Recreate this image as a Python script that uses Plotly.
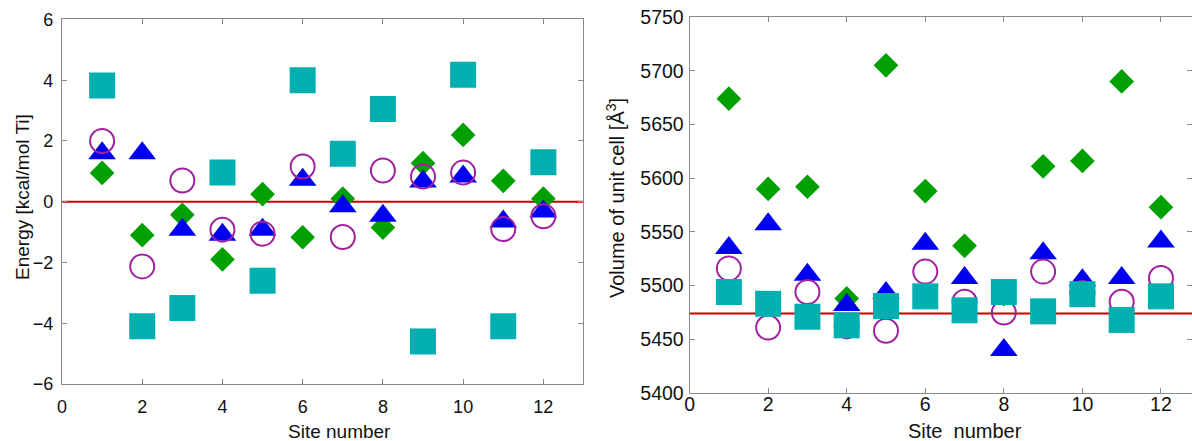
import plotly.graph_objects as go

sites = list(range(1, 13))

# Left panel: energy [kcal/mol Ti]
energy_square = [3.83, -4.1, -3.5, 0.96, -2.6, 4.0, 1.58, 3.05, -4.6, 4.18, -4.1, 1.3]
energy_circle = [2.0, -2.13, 0.7, -0.92, -1.05, 1.16, -1.16, 1.03, 0.83, 0.96, -0.9, -0.48]
energy_triangle = [1.6, 1.6, -0.92, -1.09, -0.92, 0.72, -0.15, -0.46, 0.67, 0.83, -0.65, -0.32]
energy_diamond = [0.95, -1.1, -0.43, -1.9, 0.25, -1.17, 0.1, -0.85, 1.27, 2.2, 0.69, 0.1]
energy_ref = 0.0

# Right panel: volume of unit cell [A^3]
volume_diamond = [5674, 5590, 5592, 5488, 5705, 5588, 5537, 5492, 5611, 5616, 5690, 5573]
volume_triangle = [5535, 5557, 5510, 5482, 5493, 5539, 5507, 5440, 5530, 5505, 5507, 5541]
volume_circle = [5516, 5461, 5494, 5462, 5458, 5513, 5485, 5475, 5513, 5493, 5485, 5507]
volume_square = [5494, 5483, 5471, 5463, 5481, 5490, 5477, 5494, 5476, 5492, 5468, 5490]
volume_ref = 5474

x_ticks = [0, 2, 4, 6, 8, 10, 12]

RED = "#C80000"
GREEN = "#00A000"
BLUE = "#0000F0"
PURPLE = "#A020A0"
TEAL = "#00AFAF"
FONT = "Liberation Sans, Arial, sans-serif"
TXT = "#111111"

fig = go.Figure()

def add_panel(xa, ya, x_max, ref, diamond, triangle, circle, square):
    fig.add_trace(go.Scatter(x=[0, x_max], y=[ref, ref], mode="lines",
                             line=dict(color=RED, width=2), xaxis=xa, yaxis=ya,
                             showlegend=False, hoverinfo="skip"))
    fig.add_trace(go.Scatter(x=sites, y=diamond, mode="markers", xaxis=xa, yaxis=ya,
                             marker=dict(symbol="diamond", size=19, color=GREEN, line=dict(width=0)),
                             showlegend=False))
    fig.add_trace(go.Scatter(x=sites, y=triangle, mode="markers", xaxis=xa, yaxis=ya,
                             marker=dict(symbol="triangle-up", size=24, color=BLUE, line=dict(width=0)),
                             showlegend=False))
    fig.add_trace(go.Scatter(x=sites, y=circle, mode="markers", xaxis=xa, yaxis=ya,
                             marker=dict(symbol="circle-open", size=24, color=PURPLE,
                                         line=dict(width=2, color=PURPLE)),
                             showlegend=False))
    fig.add_trace(go.Scatter(x=sites, y=square, mode="markers", xaxis=xa, yaxis=ya,
                             marker=dict(symbol="square", size=26, color=TEAL, line=dict(width=0)),
                             showlegend=False))

add_panel("x", "y", 13, energy_ref, energy_diamond, energy_triangle, energy_circle, energy_square)
add_panel("x2", "y2", 12.79, volume_ref, volume_diamond, volume_triangle, volume_circle, volume_square)

axis_common = dict(showline=True, linecolor="#8a8a8a", linewidth=1, mirror="ticks",
                   ticks="inside", ticklen=5, tickcolor="#8a8a8a", showgrid=False,
                   zeroline=False, automargin=False)

fig.update_layout(
    width=1192, height=441, autosize=False,
    margin=dict(l=0, r=0, t=0, b=0, pad=0),
    paper_bgcolor="white", plot_bgcolor="white",
    xaxis=dict(domain=[0.052, 0.4895], range=[0, 13], tickvals=x_ticks,
               ticklabelstandoff=6, anchor="y",
               tickfont=dict(family=FONT, size=18, color=TXT), **axis_common),
    yaxis=dict(domain=[0.1293, 0.9558], range=[-6, 6], dtick=2,
               ticklabelstandoff=4, anchor="x",
               tickfont=dict(family=FONT, size=18, color=TXT), **axis_common),
    xaxis2=dict(domain=[0.5785, 1.0], range=[0, 12.79], tickvals=x_ticks,
                ticklabelstandoff=-6, anchor="y2",
                tickfont=dict(family=FONT, size=19.5, color=TXT), **axis_common),
    yaxis2=dict(domain=[0.1088, 0.9615], range=[5400, 5750], dtick=50,
                ticklabelstandoff=1, anchor="x2",
                tickfont=dict(family=FONT, size=19.5, color=TXT), **axis_common),
)

left_title = dict(family=FONT, size=19, color=TXT)
right_title = dict(family=FONT, size=20, color=TXT)
fig.add_annotation(text="Site number", x=339 / 1192, y=1 - 431 / 441, xref="paper", yref="paper",
                   showarrow=False, font=left_title, xanchor="center", yanchor="middle")
fig.add_annotation(text="Site\u00a0 number", x=965 / 1192, y=1 - 431 / 441, xref="paper", yref="paper",
                   showarrow=False, font=right_title, xanchor="center", yanchor="middle")
fig.add_annotation(text="Energy [kcal/mol Ti]", x=22 / 1192, y=1 - 197 / 441, xref="paper", yref="paper",
                   showarrow=False, font=left_title, textangle=-90, xanchor="center", yanchor="middle")
fig.add_annotation(text="Volume of unit cell [Å<sup>3</sup>]", x=615 / 1192, y=1 - 198 / 441,
                   xref="paper", yref="paper", showarrow=False, font=right_title, textangle=-90,
                   xanchor="center", yanchor="middle")

fig.write_html("out.html", config={"displayModeBar": False},
               post_script="document.body.style.margin='0';document.body.style.overflow='hidden';")
